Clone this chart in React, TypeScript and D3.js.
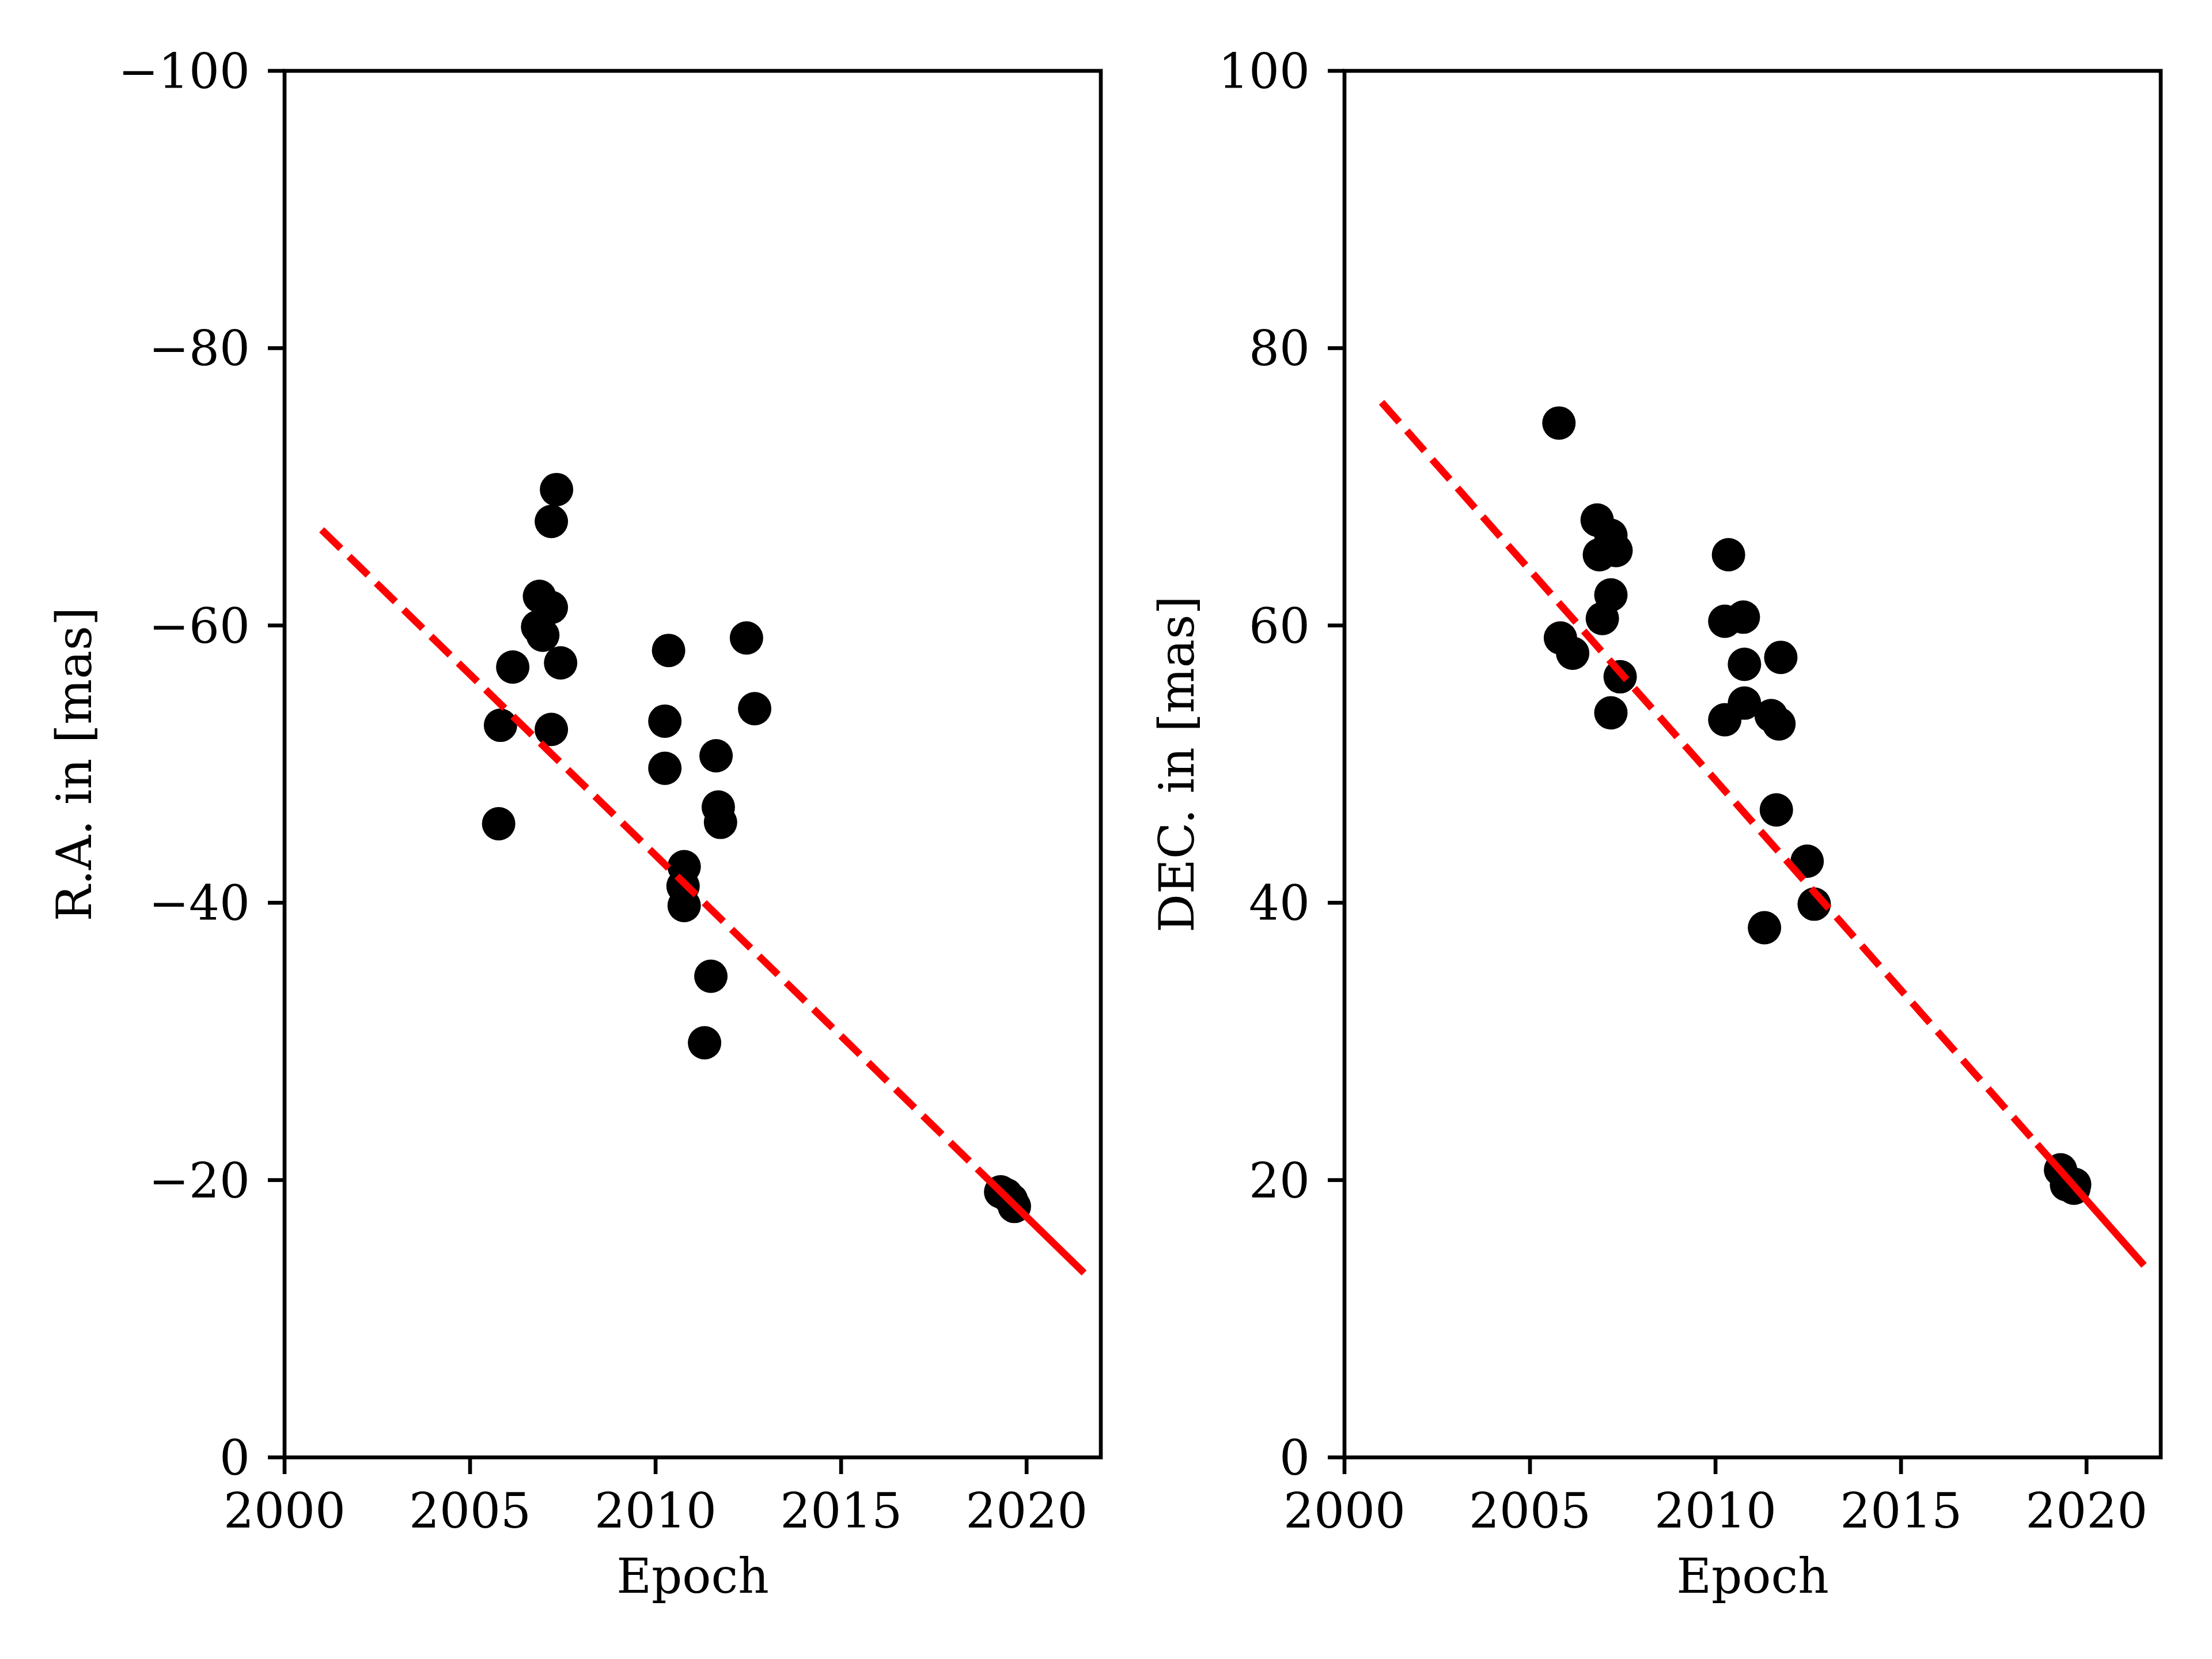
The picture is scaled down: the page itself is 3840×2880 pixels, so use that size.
import React from "react";
import * as d3 from "d3";

// ---- data ----
const raEpochs = [2007.33, 2007.19, 2006.87, 2007.19, 2006.82, 2006.96, 2006.15, 2007.44, 2005.82, 2007.19, 2005.77, 2010.35, 2012.45, 2010.25, 2012.67, 2010.25, 2011.63, 2011.69, 2011.75, 2010.77, 2010.74, 2010.77, 2011.49, 2011.32, 2019.30, 2019.45, 2019.59, 2019.67];
const raValues = [-69.8, -67.5, -62.1, -61.3, -59.9, -59.3, -57.0, -57.3, -52.8, -52.5, -45.7, -58.2, -59.1, -53.1, -54.0, -49.7, -50.6, -46.9, -45.8, -42.6, -41.2, -39.8, -34.7, -29.9, -19.15, -18.94, -18.56, -18.1];

const decEpochs = [2005.78, 2006.81, 2007.18, 2006.87, 2007.32, 2007.18, 2006.95, 2005.82, 2006.15, 2007.43, 2007.18, 2010.35, 2010.25, 2010.75, 2010.78, 2011.76, 2010.78, 2010.25, 2011.5, 2011.71, 2011.64, 2012.47, 2012.66, 2011.32, 2019.30, 2019.46, 2019.68, 2019.66];
const decValues = [74.6, 67.6, 66.5, 65.1, 65.4, 62.2, 60.5, 59.1, 58.0, 56.3, 53.7, 65.1, 60.3, 60.6, 57.2, 57.7, 54.4, 53.2, 53.5, 52.9, 46.7, 43.0, 39.9, 38.2, 20.74, 19.66, 19.69, 19.41];

// fit line: dashed from first to second epoch, solid from second to third
const fitEpochs = [2001, 2018.67, 2021.55];
const raFit = [-66.9, -20.81, -13.3];
const decFit = [76.1, 22.58, 13.85];

const xTicks = [2000, 2005, 2010, 2015, 2020];
const raTicks = [0, -20, -40, -60, -80, -100];
const decTicks = [0, 20, 40, 60, 80, 100];
const xDomain = [2000, 2022];
const raDomain = [0, -100];
const decDomain = [0, 100];

const FONT = "'DejaVu Serif', serif";
const FS = 83.3;
const LW = 6.67;

function fmt(v: number) {
  return v < 0 ? "\u2212" + Math.abs(v) : String(v);
}

type PanelProps = {
  left: number;
  epochs: number[];
  values: number[];
  fit: number[];
  yDomain: number[];
  yTicks: number[];
  ylabel: string;
  ylabelX: number;
};

function Panel({ left, epochs, values, fit, yDomain, yTicks, ylabel, ylabelX }: PanelProps) {
  const width = 1417;
  const top = 123;
  const bottom = 2530;
  const x = d3.scaleLinear().domain(xDomain).range([left, left + width]);
  const y = d3.scaleLinear().domain(yDomain).range([bottom, top]);
  const line = d3
    .line<[number, number]>()
    .x((d) => x(d[0]))
    .y((d) => y(d[1]));
  const pts: [number, number][] = fitEpochs.map((e, i) => [e, fit[i]]);
  const tickLen = 29;
  return (
    <g>
      {epochs.map((e, i) => (
        <circle key={i} cx={x(e)} cy={y(values[i])} r={29} fill="#000" />
      ))}
      <path
        d={line(pts.slice(0, 2)) || ""}
        fill="none"
        stroke="#ff0000"
        strokeWidth={12.5}
        strokeDasharray="46.25 20"
      />
      <path d={line(pts.slice(1, 3)) || ""} fill="none" stroke="#ff0000" strokeWidth={12.5} />
      <rect
        x={left}
        y={top}
        width={width}
        height={bottom - top}
        fill="none"
        stroke="#000"
        strokeWidth={LW}
      />
      {xTicks.map((t) => (
        <g key={"x" + t}>
          <line x1={x(t)} x2={x(t)} y1={bottom} y2={bottom + tickLen} stroke="#000" strokeWidth={LW} />
          <text x={x(t)} y={2652} textAnchor="middle" fontFamily={FONT} fontSize={FS} fill="#000">
            {t}
          </text>
        </g>
      ))}
      {yTicks.map((t) => (
        <g key={"y" + t}>
          <line x1={left - tickLen} x2={left} y1={y(t)} y2={y(t)} stroke="#000" strokeWidth={LW} />
          <text
            x={left - 2 * tickLen - 2}
            y={y(t)}
            dy="0.36em"
            textAnchor="end"
            fontFamily={FONT}
            fontSize={FS}
            fill="#000"
          >
            {fmt(t)}
          </text>
        </g>
      ))}
      <text x={left + width / 2} y={2765} textAnchor="middle" fontFamily={FONT} fontSize={FS} fill="#000">
        Epoch
      </text>
      <text
        transform={`translate(${ylabelX},${(top + bottom) / 2}) rotate(-90)`}
        textAnchor="middle"
        fontFamily={FONT}
        fontSize={FS}
        fill="#000"
      >
        {ylabel}
      </text>
    </g>
  );
}

export default function App() {
  return (
    <svg
      width={3840}
      height={2880}
      viewBox="0 0 3840 2880"
      style={{ position: "absolute", left: 0, top: 0, display: "block", background: "#fff" }}
    >
      <rect x={0} y={0} width={3840} height={2880} fill="#fff" />
      <Panel
        left={494}
        epochs={raEpochs}
        values={raValues}
        fit={raFit}
        yDomain={raDomain}
        yTicks={raTicks}
        ylabel="R.A. in [mas]"
        ylabelX={158}
      />
      <Panel
        left={2334}
        epochs={decEpochs}
        values={decValues}
        fit={decFit}
        yDomain={decDomain}
        yTicks={decTicks}
        ylabel="DEC. in [mas]"
        ylabelX={2072}
      />
    </svg>
  );
}
